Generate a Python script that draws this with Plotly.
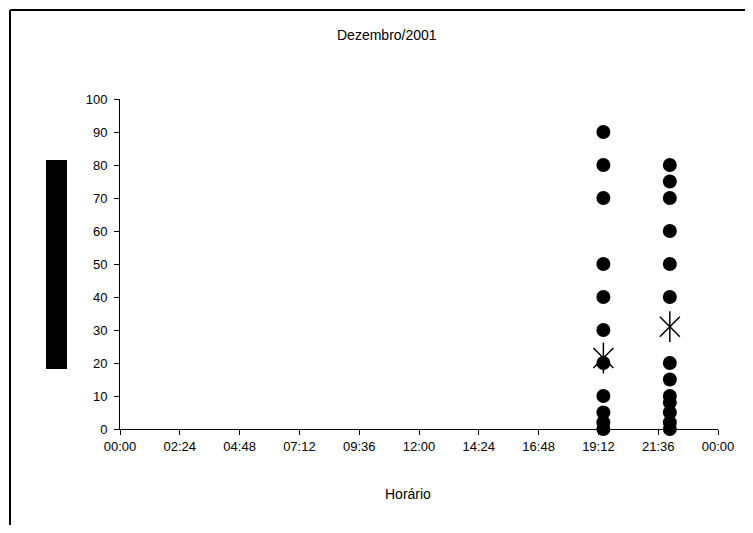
import plotly.graph_objects as go

# Data
title_text = "Dezembro/2001"
x_title = "Horário"
tick_labels = ["00:00", "02:24", "04:48", "07:12", "09:36", "12:00",
               "14:24", "16:48", "19:12", "21:36", "00:00"]
tick_hours = [0, 2.4, 4.8, 7.2, 9.6, 12, 14.4, 16.8, 19.2, 21.6, 24]

obs_time_1 = "19:24"
obs_values_1 = [90, 80, 70, 50, 40, 30, 20, 10, 5, 2, 0]
obs_time_2 = "22:04"
obs_values_2 = [80, 75, 70, 60, 50, 40, 20, 15, 10, 8, 5, 2, 0]
mean_times = ["19:24", "22:04"]
mean_values = [21.5, 31]


def to_hours(t):
    h, m = t.split(":")
    return int(h) + int(m) / 60


x1 = [to_hours(obs_time_1)] * len(obs_values_1)
x2 = [to_hours(obs_time_2)] * len(obs_values_2)
xm = [to_hours(t) for t in mean_times]

fig = go.Figure()
fig.add_trace(go.Scatter(x=x1 + x2, y=obs_values_1 + obs_values_2, mode="markers",
                         marker=dict(symbol="circle", size=14, color="black"),
                         showlegend=False, cliponaxis=False))
fig.add_trace(go.Scatter(x=xm, y=mean_values, mode="markers",
                         marker=dict(symbol="x-thin-open", size=20, color="black",
                                     line=dict(color="black", width=1.5)),
                         showlegend=False, cliponaxis=False))
fig.add_trace(go.Scatter(x=xm, y=mean_values, mode="markers",
                         marker=dict(symbol="line-ns-open", size=22, color="black",
                                     line=dict(color="black", width=1.5)),
                         showlegend=False, cliponaxis=False))

OFF = 8  # page body margin
W, H = 753 - 2 * OFF, 533 - 2 * OFF
# target plot area in page pixels: x 120..718, y 99..429
L, T = 120 - OFF, 99 - OFF
pw, ph = 598, 330
R = W - L - pw
B = H - T - ph


def px_x(p):
    return (p - OFF - L) / pw


def px_y(p):
    return (H - B - (p - OFF)) / ph


fig.update_layout(
    width=W, height=H,
    margin=dict(l=L, r=R, t=T, b=B),
    plot_bgcolor="white", paper_bgcolor="white",
    font=dict(family="Liberation Sans, Arial, sans-serif", size=13, color="black"),
    xaxis=dict(range=[0, 24], tickvals=tick_hours, ticktext=tick_labels,
               showgrid=False, zeroline=False, showline=True, linecolor="black",
               linewidth=1, ticks="outside", ticklen=5, tickcolor="black",
               tickfont=dict(size=13)),
    yaxis=dict(range=[0, 100], tickvals=list(range(0, 101, 10)),
               showgrid=False, zeroline=False, showline=True, linecolor="black",
               linewidth=1, ticks="outside", ticklen=5, tickcolor="black",
               tickfont=dict(size=13), ticklabelstandoff=4),
    shapes=[
        # chart frame: top and left edges
        dict(type="line", xref="paper", yref="paper",
             x0=px_x(10), x1=px_x(780), y0=px_y(10), y1=px_y(10),
             line=dict(color="black", width=2), layer="below"),
        dict(type="line", xref="paper", yref="paper",
             x0=px_x(10), x1=px_x(10), y0=px_y(10), y1=px_y(560),
             line=dict(color="black", width=2), layer="below"),
        # redacted y-axis title block
        dict(type="rect", xref="paper", yref="paper",
             x0=px_x(46), x1=px_x(67), y0=px_y(369), y1=px_y(160),
             line=dict(width=0), fillcolor="black"),
    ],
    annotations=[
        dict(text=title_text, xref="paper", yref="paper", x=px_x(387), y=px_y(35),
             showarrow=False, font=dict(size=14), xanchor="center", yanchor="middle"),
        dict(text=x_title, xref="paper", yref="paper", x=px_x(408), y=px_y(494),
             showarrow=False, font=dict(size=14), xanchor="center", yanchor="middle"),
    ],
)

fig.write_html("out.html")
